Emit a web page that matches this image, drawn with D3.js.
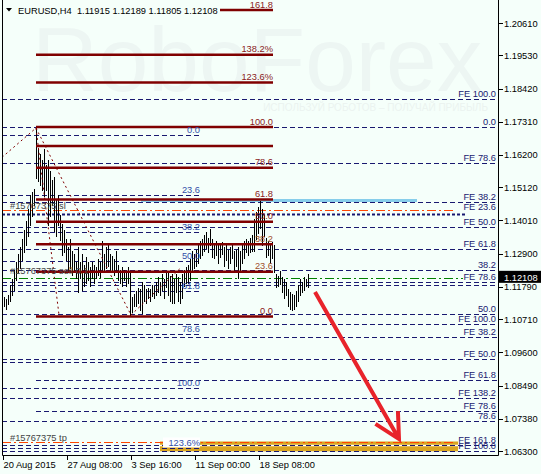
<!DOCTYPE html>
<html>
<head>
<meta charset="utf-8">
<script src="https://cdn.jsdelivr.net/npm/d3@7"></script>
<style>
    html, body { margin: 0; padding: 0; background: #F5FFFA; }
    svg { display: block; font-family: "Liberation Sans", Arial, sans-serif; }
</style>
</head>
<body>
<svg id="chart" width="541" height="474"></svg>
<script>
"use strict";

// EURUSD H4 bars, 20 Aug - 22 Sep 2015
var highs = [
    1.1145, 1.1138, 1.1149, 1.1185, 1.1202, 1.1235, 1.1262, 1.1286, 1.1309, 1.1336,
    1.1369, 1.1396, 1.1436, 1.1486, 1.1496, 1.1503, 1.1710, 1.1637, 1.1620, 1.1603,
    1.1637, 1.1586, 1.1603, 1.1563, 1.1536, 1.1543, 1.1469, 1.1486, 1.1419, 1.1386,
    1.1369, 1.1336, 1.1309, 1.1336, 1.1296, 1.1286, 1.1262, 1.1309, 1.1262, 1.1286,
    1.1252, 1.1276, 1.1262, 1.1242, 1.1262, 1.1252, 1.1242, 1.1269, 1.1262, 1.1329,
    1.1286, 1.1309, 1.1319, 1.1286, 1.1282, 1.1269, 1.1296, 1.1252, 1.1235, 1.1242,
    1.1235, 1.1229, 1.1242, 1.1229, 1.1142, 1.1152, 1.1162, 1.1175, 1.1169, 1.1192,
    1.1185, 1.1169, 1.1175, 1.1169, 1.1185, 1.1179, 1.1192, 1.1209, 1.1195, 1.1219,
    1.1202, 1.1229, 1.1229, 1.1215, 1.1219, 1.1202, 1.1219, 1.1209, 1.1195, 1.1219,
    1.1235, 1.1242, 1.1252, 1.1269, 1.1296, 1.1286, 1.1302, 1.1319, 1.1329, 1.1336,
    1.1352, 1.1362, 1.1342, 1.1372, 1.1336, 1.1319, 1.1329, 1.1316, 1.1322, 1.1326,
    1.1312, 1.1319, 1.1302, 1.1309, 1.1322, 1.1296, 1.1302, 1.1309, 1.1296, 1.1319,
    1.1329, 1.1336, 1.1329, 1.1342, 1.1349, 1.1403, 1.1429, 1.1443, 1.1463, 1.1436,
    1.1419, 1.1342, 1.1329, 1.1319, 1.1326, 1.1316, 1.1219, 1.1212, 1.1229, 1.1209,
    1.1202, 1.1192, 1.1169, 1.1159, 1.1152, 1.1149, 1.1162, 1.1185, 1.1202, 1.1192,
    1.1209, 1.1202, 1.12189
];
var lows = [
    1.1115, 1.1108, 1.1122, 1.1135, 1.1152, 1.1169, 1.1202, 1.1229, 1.1242, 1.1269,
    1.1296, 1.1319, 1.1352, 1.1386, 1.1419, 1.1453, 1.1543, 1.1536, 1.1520, 1.1503,
    1.1486, 1.1503, 1.1386, 1.1419, 1.1453, 1.1369, 1.1352, 1.1386, 1.1336, 1.1286,
    1.1296, 1.1269, 1.1235, 1.1242, 1.1219, 1.1235, 1.1209, 1.1162, 1.1209, 1.1169,
    1.1185, 1.1195, 1.1202, 1.1185, 1.1209, 1.1195, 1.1209, 1.1219, 1.1215, 1.1229,
    1.1235, 1.1242, 1.1249, 1.1229, 1.1235, 1.1219, 1.1235, 1.1202, 1.1195, 1.1185,
    1.1202, 1.1185, 1.1195, 1.1085, 1.1095, 1.1118, 1.1118, 1.1125, 1.1102, 1.1092,
    1.1135, 1.1128, 1.1142, 1.1135, 1.1149, 1.1142, 1.1152, 1.1162, 1.1152, 1.1169,
    1.1145, 1.1179, 1.1152, 1.1135, 1.1128, 1.1128, 1.1162, 1.1135, 1.1125, 1.1145,
    1.1185, 1.1192, 1.1195, 1.1202, 1.1229, 1.1242, 1.1252, 1.1262, 1.1276, 1.1286,
    1.1302, 1.1309, 1.1296, 1.1319, 1.1282, 1.1276, 1.1286, 1.1262, 1.1282, 1.1289,
    1.1252, 1.1269, 1.1242, 1.1262, 1.1276, 1.1235, 1.1252, 1.1209, 1.1235, 1.1262,
    1.1276, 1.1296, 1.1286, 1.1296, 1.1302, 1.1302, 1.1342, 1.1362, 1.1376, 1.1319,
    1.1352, 1.1282, 1.1286, 1.1262, 1.1276, 1.1229, 1.1179, 1.1185, 1.1189, 1.1162,
    1.1145, 1.1152, 1.1118, 1.1108, 1.1102, 1.1108, 1.1115, 1.1135, 1.1152, 1.1162,
    1.1169, 1.1182, 1.11805
];
var lastQuote = ["1.11915", "1.12189", "1.11805", "1.12108"];
var lastClose = 1.12108;

var priceTicks = [1.2061, 1.1953, 1.1842, 1.1731, 1.1620, 1.1512, 1.1401,
    1.1290, 1.1179, 1.1071, 1.0960, 1.0849, 1.0738, 1.0630];
var timeTickBars = [0, 32, 64, 96, 128];
var timeTickLabels = ["20 Aug 2015", "27 Aug 08:00", "3 Sep 16:00", "11 Sep 00:00", "18 Sep 08:00"];

// main retracement (red), from the 3 Sep low to the 24 Aug high
var fibLow = 1.1080, fibHigh = 1.1713;
var fibLevels = [0, 0.236, 0.382, 0.5, 0.618, 0.786, 0.9, 1, 1.236, 1.382, 1.618];
var fibLabels = ["0.0", "23.6", "38.2", "50.0", "61.8", "78.6", "", "100.0", "123.6%", "138.2%", "161.8"];

// second retracement (blue, ends at 11 Sep)
var fib2Zero = 1.1687, fib2Full = 1.0841;
var fib2Levels = [0, 0.236, 0.382, 0.5, 0.618, 0.786, 1, 1.236];
var fib2Labels = ["0.0", "23.6", "38.2", "50.0", "61.8", "78.6", "100.0", "123.6%"];

// expansion levels running to the price scale
var feLevels = [1.1807, 1.1713, 1.1593, 1.1463, 1.1379, 1.1305, 1.1235, 1.1195, 1.1185,
    1.1088, 1.1055, 1.1011, 1.0938, 1.0867, 1.0807, 1.0764, 1.0730, 1.0650, 1.0630];
var feLabels = ["FE 100.0", "0.0", "FE 78.6", "FE 38.2", "FE 50.0", "FE 61.8", "38.2", "FE 78.6", "",
    "50.0", "FE 100.0", "FE 38.2", "FE 50.0", "FE 61.8", "FE 138.2", "FE 78.6", "78.6", "FE 161.8", "FE 100.0"];
var feStartBar = [-1, -1, -1, -1, -1, -1, -1, -1, -1, -1, -1, 16, -1, 16, -1, 16, -1, -1, -1];

// order #15767375
var orderOpen = 1.1209, orderSl = 1.1436, orderTp = 1.0661;
var dottedLevel = 1.1423;   // FE 23.6
var skyLevel = 1.1469;
var extraLevel = 1.0928;
var targetZone = [1.0629, 1.0662], targetBars = [78, 227];

// fib diagonals and the forecast arrow, [bar, price]
var diagonals = [
    [[-1, 1.1612], [16, 1.1710]],
    [[16, 1.1710], [27.5, 1.1085]],
    [[16, 1.1710], [63.5, 1.1085]],
    [[63.5, 1.1085], [88, 1.1240]]
];
var arrowFrom = [155.5, 1.1162], arrowTo = [197.5, 1.0670];

var svg = d3.select("#chart");
var x = d3.scaleLinear().domain([-1, 247]).range([2, 498]),
    y = d3.scaleLinear().domain([1.06168, 1.2138]).range([455, 0]);

var py = function (p) { return Math.round(y(p)) + 0.5; };
var NAVY = "#191970", MAROON = "#800000";

// watermark
svg.append("text").text("RoboForex")
    .attr("x", 32).attr("y", 91)
    .attr("font-size", 91)
    .attr("fill", "#edf6f3");
svg.append("text").text("ИСПОЛЬЗУЙ РОБОТОВ – ПОЛУЧАЙ ПРИБЫЛЬ")
    .attr("x", 488).attr("y", 111)
    .attr("text-anchor", "end")
    .attr("font-size", 10)
    .attr("fill", "#ebf3f0");

var objects = svg.append("g");

var hline = function (p, i1, i2, color, width, dash) {
    return objects.append("line")
        .attr("x1", x(i1)).attr("x2", x(i2))
        .attr("y1", py(p)).attr("y2", py(p))
        .attr("stroke", color)
        .attr("stroke-width", width)
        .attr("stroke-dasharray", dash || null);
};
var label = function (txt, xx, p, color, anchor) {
    return objects.append("text").text(txt)
        .attr("x", xx).attr("y", py(p) - 2.5)
        .attr("text-anchor", anchor || "end")
        .attr("font-size", 9.3)
        .attr("fill", color);
};

// target zone
objects.append("rect")
    .attr("x", x(targetBars[0])).attr("width", x(targetBars[1]) - x(targetBars[0]))
    .attr("y", y(targetZone[1])).attr("height", y(targetZone[0]) - y(targetZone[1]))
    .attr("fill", "#DAA520");

hline(skyLevel, 68.5, 206.5, "#87CEEB", 3);

// blue expansion lines
feLevels.forEach(function (p, k) {
    if (k === 17) {
        hline(p, targetBars[0], targetBars[1], "#ffffff", 1.5);
    }
    hline(p, feStartBar[k], 247, NAVY, 1, "5,3");
    if (feLabels[k]) { label(feLabels[k], 496, p, NAVY); }
});
hline(extraLevel, -1, 98, NAVY, 1, "5,3");

// second retracement
fib2Levels.forEach(function (lv, k) {
    var p = fib2Zero + (fib2Full - fib2Zero) * lv;
    hline(p, -1, 98, NAVY, 1, "5,3");
});

// order lines
hline(orderSl, -1, 225.5, "#FF4500", 1, "9,3,2,3");
hline(orderTp, -1, 225.5, "#FF4500", 1, "9,3,2,3");
hline(orderOpen, -1, 229.5, "#008000", 1, "9,3,2,3");
hline(dottedLevel, -1, 230.5, NAVY, 2, "3,2");
label("FE 23.6", 496, dottedLevel + 0.0007, NAVY);

// bars
svg.append("g").selectAll("line")
    .data(highs)
    .enter()
    .append("line")
    .attr("x1", function (d, i) { return Math.round(x(i)) + 0.5; })
    .attr("x2", function (d, i) { return Math.round(x(i)) + 0.5; })
    .attr("y1", function (d) { return Math.floor(y(d)); })
    .attr("y2", function (d, i) { return Math.ceil(y(lows[i])) + 1; })
    .attr("stroke", "#000")
    .attr("stroke-width", 1);

var overlay = svg.append("g");

// red retracement
fibLevels.forEach(function (lv, k) {
    var p = fibLow + (fibHigh - fibLow) * lv;
    overlay.append("line")
        .attr("x1", x(16)).attr("x2", x(134.5))
        .attr("y1", y(p)).attr("y2", y(p))
        .attr("stroke", MAROON)
        .attr("stroke-width", 2.5);
    overlay.append("text").text(fibLabels[k])
        .attr("x", 273).attr("y", y(p) - 2.5)
        .attr("text-anchor", "end")
        .attr("font-size", 9.3)
        .attr("fill", k === 1 || k === 2 ? "#a0522d" : "#8b1a1a");
});

diagonals.forEach(function (seg) {
    overlay.append("line")
        .attr("x1", x(seg[0][0])).attr("y1", y(seg[0][1]))
        .attr("x2", x(seg[1][0])).attr("y2", y(seg[1][1]))
        .attr("stroke", MAROON)
        .attr("stroke-width", 1)
        .attr("stroke-dasharray", "2,3");
});

// second retracement labels
fib2Levels.forEach(function (lv, k) {
    var p = fib2Zero + (fib2Full - fib2Zero) * lv;
    if (k === 7) {
        overlay.append("rect")
            .attr("x", 163).attr("y", py(p) - 11)
            .attr("width", 37).attr("height", 10)
            .attr("fill", "#ffffff");
    }
    overlay.append("text").text(fib2Labels[k])
        .attr("x", 200).attr("y", py(p) - 2.5)
        .attr("text-anchor", "end")
        .attr("font-size", 9.3)
        .attr("fill", "#3350a8");
});

// order texts
[["#15767375 sl", orderSl], ["#15767375 sell 0.1", orderOpen + 0.0010], ["#15767375 tp", orderTp]]
    .forEach(function (o) {
        overlay.append("text").text(o[0])
            .attr("x", 10).attr("y", py(o[1]) - 2)
            .attr("font-size", 9.3)
            .attr("fill", "#444");
    });

// forecast arrow
var ax0 = x(arrowFrom[0]), ay0 = y(arrowFrom[1]),
    ax1 = x(arrowTo[0]), ay1 = y(arrowTo[1]),
    back = Math.atan2(ay0 - ay1, ax0 - ax1),
    wing = 28, spread = 0.48;
overlay.append("path")
    .attr("d", "M" + ax0 + "," + ay0 + "L" + ax1 + "," + ay1 +
        "M" + (ax1 + wing * Math.cos(back - spread)) + "," + (ay1 + wing * Math.sin(back - spread)) +
        "L" + ax1 + "," + ay1 +
        "L" + (ax1 + wing * Math.cos(back + spread)) + "," + (ay1 + wing * Math.sin(back + spread)))
    .attr("fill", "none")
    .attr("stroke", "#e8232a")
    .attr("stroke-width", 4)
    .attr("stroke-linejoin", "miter");

// frame and axes
svg.append("path")
    .attr("d", "M2.5,0V455.5H498.5V0")
    .attr("fill", "none")
    .attr("stroke", "#000");

var yAxis = svg.append("g");
priceTicks.forEach(function (p) {
    yAxis.append("line")
        .attr("x1", 498).attr("x2", 503)
        .attr("y1", py(p)).attr("y2", py(p))
        .attr("stroke", "#000");
    yAxis.append("text").text(p.toFixed(5))
        .attr("x", 504).attr("y", y(p) + 3.5)
        .attr("font-size", 9.3)
        .attr("fill", "#000");
});

yAxis.append("rect")
    .attr("x", 499).attr("y", y(lastClose) - 6.5)
    .attr("width", 42).attr("height", 12)
    .attr("fill", "#000");
yAxis.append("text").text(lastClose.toFixed(5))
    .attr("x", 504).attr("y", y(lastClose) + 3.5)
    .attr("font-size", 9.3)
    .attr("fill", "#fff");

var xAxis = svg.append("g");
timeTickBars.forEach(function (b, k) {
    var xx = Math.round(x(b)) - 0.5;
    xAxis.append("line")
        .attr("x1", xx).attr("x2", xx)
        .attr("y1", 455).attr("y2", 460)
        .attr("stroke", "#000");
    xAxis.append("text").text(timeTickLabels[k])
        .attr("x", xx).attr("y", 468)
        .attr("font-size", 9.3)
        .attr("fill", "#000");
});

// header
var header = svg.append("g");
header.append("rect")
    .attr("x", 3).attr("y", 3).attr("width", 217).attr("height", 13)
    .attr("fill", "#F5FFFA");
header.append("path")
    .attr("d", "M6,8H12L9,11.5Z")
    .attr("fill", "#000");
header.append("text").text("EURUSD,H4  " + lastQuote.join(" "))
    .attr("x", 18).attr("y", 13.5)
    .attr("font-size", 9.3)
    .attr("fill", "#000")
    .attr("xml:space", "preserve");
</script>
</body>
</html>
